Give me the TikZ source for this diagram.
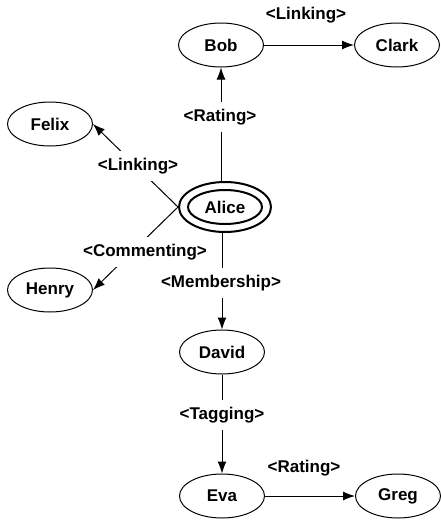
\documentclass[tikz,border=0pt]{standalone}
\usepackage{fontspec}
\setmainfont{Liberation Sans}
\usetikzlibrary{shapes.geometric,arrows.meta}
\begin{document}
\begin{tikzpicture}[x=1pt,y=-1pt,
  font=\fontsize{17}{20}\selectfont\bfseries,
  ent/.style={ellipse,draw,line width=1pt,inner sep=0pt,minimum width=85pt,minimum height=44pt},
  lbl/.style={fill=white,inner xsep=1pt,inner ysep=7pt},
  rel/.style={line width=1pt,-{Latex[length=12pt,width=9pt]}},
  plain/.style={line width=1pt}]
\useasboundingbox (0,0) rectangle (440,523);
% entities
\node[ent] (bob) at (221,45) {Bob};
\node[ent] (clark) at (397,45) {Clark};
\node[ent] (felix) at (50,124) {Felix};
\node[ellipse,draw,line width=2pt,inner sep=0pt,minimum width=92pt,minimum height=50pt] (alice) at (225,207) {};
\node[ellipse,draw,line width=2pt,inner sep=0pt,minimum width=74pt,minimum height=34pt] (alicein) at (225,207) {Alice};
\node[ent] (henry) at (50,290) {Henry};
\node[ent] (david) at (222,352) {David};
\node[ent] (eva) at (222,496) {Eva};
\node[ent] (greg) at (398,496) {Greg};
% connectors
\draw[rel] (bob |- alice.north) -- (bob.south);
\draw[rel] (bob.east) -- (clark.west);
\draw[rel] (alice.west) -- (felix.east);
\draw[rel] (alice.west) -- (henry.east);
\draw[rel] (david |- alice.south) -- (david.north);
\draw[rel] (david.south) -- (eva.north);
\draw[rel] (eva.east) -- (greg.west);
% labels
\node[lbl] (l1) at (220,117) {<Rating>};
\node[lbl] (l2) at (306,15) {<Linking>};
\node[lbl] (l3) at (138,166) {<Linking>};
\node[lbl] (l4) at (145,252) {<Commenting>};
\node[lbl] (l5) at (221,283) {<Membership>};
\node[lbl] (l6) at (222,415) {<Tagging>};
\node[lbl] (l7) at (304,468) {<Rating>};
\end{tikzpicture}
\end{document}
